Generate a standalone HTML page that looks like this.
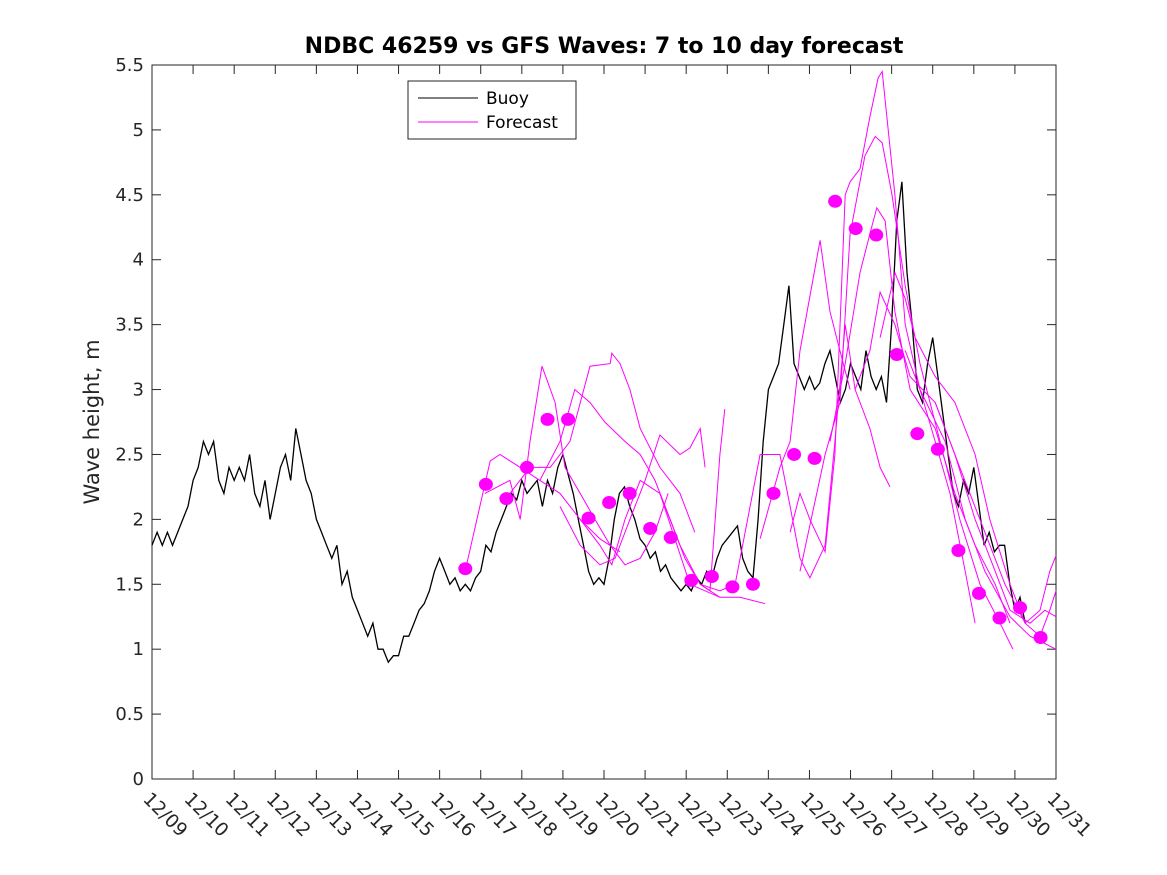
<!DOCTYPE html>
<html><head><meta charset="utf-8"><style>
body{margin:0;background:#fff;}
svg{display:block;font-family:"DejaVu Sans","Liberation Sans",sans-serif;}
</style></head><body>
<svg id="chart" width="1167" height="875" viewBox="0 0 1167 875" xmlns="http://www.w3.org/2000/svg">
<rect width="1167" height="875" fill="#fff"/>
<text x="604" y="53" text-anchor="middle" font-size="22" font-weight="bold" fill="#000">NDBC 46259 vs GFS Waves: 7 to 10 day forecast</text>
<text transform="translate(99,422) rotate(-90)" text-anchor="middle" font-size="21" fill="#262626">Wave height, m</text>
<g id="plot"></g>
</svg>
<script>
const xTickLabels=["12/09","12/10","12/11","12/12","12/13","12/14","12/15","12/16","12/17","12/18","12/19","12/20","12/21","12/22","12/23","12/24","12/25","12/26","12/27","12/28","12/29","12/30","12/31"];
const yTicks=[0,0.5,1,1.5,2,2.5,3,3.5,4,4.5,5,5.5];
const yTickLabels=["0","0.5","1","1.5","2","2.5","3","3.5","4","4.5","5","5.5"];
const buoyStep=0.125;
const buoyVals=[1.8,1.9,1.8,1.9,1.8,1.9,2.0,2.1,
2.3,2.4,2.6,2.5,2.6,2.3,2.2,2.4,
2.3,2.4,2.3,2.5,2.2,2.1,2.3,2.0,
2.2,2.4,2.5,2.3,2.7,2.5,2.3,2.2,
2.0,1.9,1.8,1.7,1.8,1.5,1.6,1.4,
1.3,1.2,1.1,1.2,1.0,1.0,0.9,0.95,
0.95,1.1,1.1,1.2,1.3,1.35,1.45,1.6,
1.7,1.6,1.5,1.55,1.45,1.5,1.45,1.55,
1.6,1.8,1.75,1.9,2.0,2.1,2.2,2.15,
2.3,2.2,2.25,2.3,2.1,2.3,2.2,2.4,
2.5,2.35,2.2,2.0,1.8,1.6,1.5,1.55,
1.5,1.7,2.0,2.2,2.25,2.1,2.0,1.85,
1.8,1.7,1.75,1.6,1.65,1.55,1.5,1.45,
1.5,1.45,1.55,1.5,1.6,1.55,1.7,1.8,
1.85,1.9,1.95,1.7,1.6,1.55,2.0,2.6,
3.0,3.1,3.2,3.5,3.8,3.2,3.1,3.0,
3.1,3.0,3.05,3.2,3.3,3.1,2.9,3.0,
3.2,3.1,3.0,3.3,3.1,3.0,3.1,2.9,
3.5,4.3,4.6,3.9,3.5,3.0,2.9,3.2,
3.4,3.1,2.8,2.5,2.2,2.1,2.3,2.2,
2.4,2.1,1.8,1.9,1.75,1.8,1.8,1.5,
1.3,1.4,1.2];
const fcDays=[
[7.62,8.23,8.47,8.96,9.44,9.93,10.42,10.90,11.39],
[8.10,8.71,8.96,9.20,9.49,9.81,10.05,10.42,10.78,11.15,11.51,11.88,12.24,12.56],
[8.71,9.20,9.69,10.17,10.66,11.15,11.19,11.39,11.63,11.88,12.36,12.85,13.21],
[9.44,9.93,10.29,10.66,11.02,11.51,11.88,12.24,12.61,12.97,13.34,13.82],
[9.93,10.42,10.90,11.27,11.63,12.00,12.36,12.85,13.09,13.34,13.46],
[10.42,10.90,11.19,11.51,11.88,12.36,12.85,13.34,13.58,13.82,13.94],
[12.36,13.09,13.82,14.31,14.92],
[13.34,13.82,14.19,14.80,15.28,15.53,15.77,16.01,16.38,16.62,16.87,17.11,17.47,17.72,17.96],
[14.80,15.28,15.53,15.77,16.26,16.50,16.74,16.99],
[15.53,15.77,16.01,16.38,16.62,16.87,16.99,17.23,17.47,17.67,17.77,18.08,18.33,18.69,19.06,19.42,19.79,20.03],
[15.77,16.38,16.74,16.99,17.35,17.60,17.77,18.01,18.33,18.69,19.18,19.66,20.15,20.64,20.95],
[16.50,16.87,17.23,17.47,17.64,17.84,18.08,18.45,19.06,19.54,20.03,20.52,20.88],
[17.11,17.47,17.72,18.08,18.45,19.06,19.54,20.03,20.52,20.88,21.37,21.73,22.0],
[17.72,18.08,18.33,18.57,19.06,19.54,20.03,20.39,20.88,21.25,21.61,21.85,22.0],
[18.33,18.69,19.30,19.79,20.27,20.88,21.37,22.0],
[19.06,19.66,20.27,20.76,21.25,21.61,21.85,22.0]];
const fcVals=[
[1.6,2.45,2.5,2.4,2.3,2.2,2.0,1.85,1.75],
[2.2,2.3,2.0,2.6,3.18,2.9,2.4,2.2,2.0,1.8,1.65,1.7,1.9,2.2],
[2.2,2.4,2.4,2.6,3.18,3.2,3.28,3.2,3.0,2.7,2.4,2.2,1.9],
[2.3,2.6,3.0,2.9,2.75,2.6,2.5,2.3,2.0,1.7,1.5,1.4],
[2.1,1.8,1.65,1.7,2.0,2.3,2.65,2.5,2.55,2.7,2.4],
[2.0,1.8,1.65,2.0,2.3,2.2,1.8,1.5,1.45,2.5,2.85],
[2.2,1.5,1.4,1.4,1.35],
[1.5,1.45,1.5,2.5,2.5,2.1,1.7,1.55,1.8,2.6,3.5,3.0,2.7,2.4,2.25],
[1.85,2.4,2.6,3.3,4.15,3.6,3.3,3.0],
[1.9,2.2,2.0,1.75,2.5,4.5,4.6,4.7,5.1,5.4,5.45,4.5,3.5,3.0,2.6,2.2,1.6,1.2],
[1.6,2.5,2.9,4.2,4.8,4.95,4.9,4.5,3.8,3.2,2.6,2.0,1.5,1.2,1.0],
[2.6,3.2,3.9,4.2,4.4,4.3,3.6,3.0,2.7,2.2,1.8,1.5,1.2],
[3.0,3.3,3.75,3.5,3.1,2.9,2.5,2.0,1.6,1.3,1.2,1.3,1.25],
[3.4,3.9,3.7,3.4,3.1,2.9,2.5,2.0,1.5,1.2,1.3,1.6,1.72],
[3.3,3.0,2.6,2.0,1.6,1.25,1.1,1.0],
[2.9,2.4,1.9,1.5,1.2,1.1,1.3,1.45]];
const dotDays=[7.625,8.125,8.625,9.125,9.625,10.125,10.625,11.125,11.625,12.125,12.625,13.125,13.625,14.125,14.625,15.125,15.625,16.125,16.625,17.125,17.625,18.125,18.625,19.125,19.625,20.125,20.625,21.125,21.625];
const dotVals=[1.62,2.27,2.16,2.40,2.77,2.77,2.01,2.13,2.20,1.93,1.86,1.53,1.56,1.48,1.50,2.20,2.50,2.47,4.45,4.24,4.19,3.27,2.66,2.54,1.76,1.43,1.24,1.32,1.09];

const L=152,R=1056,T=65,B=779,NS="http://www.w3.org/2000/svg";
const xs=d=>L+(R-L)*d/22;
const ys=v=>B-(B-T)*v/5.5;
const g=document.getElementById('plot');
function mk(tag,attrs){const e=document.createElementNS(NS,tag);for(const k in attrs)e.setAttribute(k,attrs[k]);g.appendChild(e);return e;}
const frame=mk('rect',{x:L,y:T,width:R-L,height:B-T,fill:'#fff',stroke:'#262626','stroke-width':1});


xTickLabels.forEach((lab,i)=>{
  const x=xs(i);
  const t1=mk('line',{x1:x,y1:B,x2:x,y2:B-9,stroke:'#262626'});
  
  
  const t2=mk('line',{x1:x,y1:T,x2:x,y2:T+9,stroke:'#262626'});
  
  
  const tx=mk('text',{transform:`translate(${x+9},${B+40}) rotate(45)`,'text-anchor':'middle','font-size':18.5,fill:'#262626'});
  tx.textContent=lab;
  
  
});
yTicks.forEach((v,i)=>{
  const y=ys(v);
  const t1=mk('line',{x1:L,y1:y,x2:L+9,y2:y,stroke:'#262626'});
  
  
  const t2=mk('line',{x1:R,y1:y,x2:R-9,y2:y,stroke:'#262626'});
  
  
  const tx=mk('text',{x:L-8,y:y+6,'text-anchor':'end','font-size':18,fill:'#262626'});
  tx.textContent=yTickLabels[i];
  
  
});
const bp=buoyVals.map((v,i)=>xs(i*buoyStep).toFixed(1)+','+ys(v).toFixed(1)).join(' ');
const buoy=mk('polyline',{points:bp,fill:'none',stroke:'#000','stroke-width':1.3});


fcDays.forEach((ds,k)=>{
  const p=ds.map((d,i)=>xs(d).toFixed(1)+','+ys(fcVals[k][i]).toFixed(1)).join(' ');
  const l=mk('polyline',{points:p,fill:'none',stroke:'#ff00ff','stroke-width':1});
  
  
});
dotDays.forEach((d,i)=>{
  const c=mk('ellipse',{cx:xs(d),cy:ys(dotVals[i]),rx:7,ry:6.5,fill:'#ff00ff'});
  
  
});
const lg=mk('rect',{x:408,y:81,width:168,height:58,fill:'#fff',stroke:'#262626'});


const l1=mk('line',{x1:418,y1:98,x2:478,y2:98,stroke:'#000'});


const t1=mk('text',{x:486,y:104,'font-size':17,fill:'#000'});t1.textContent='Buoy';


const l2=mk('line',{x1:418,y1:122,x2:478,y2:122,stroke:'#ff00ff'});


const t2=mk('text',{x:486,y:128,'font-size':17,fill:'#000'});t2.textContent='Forecast';


</script>
</body></html>
